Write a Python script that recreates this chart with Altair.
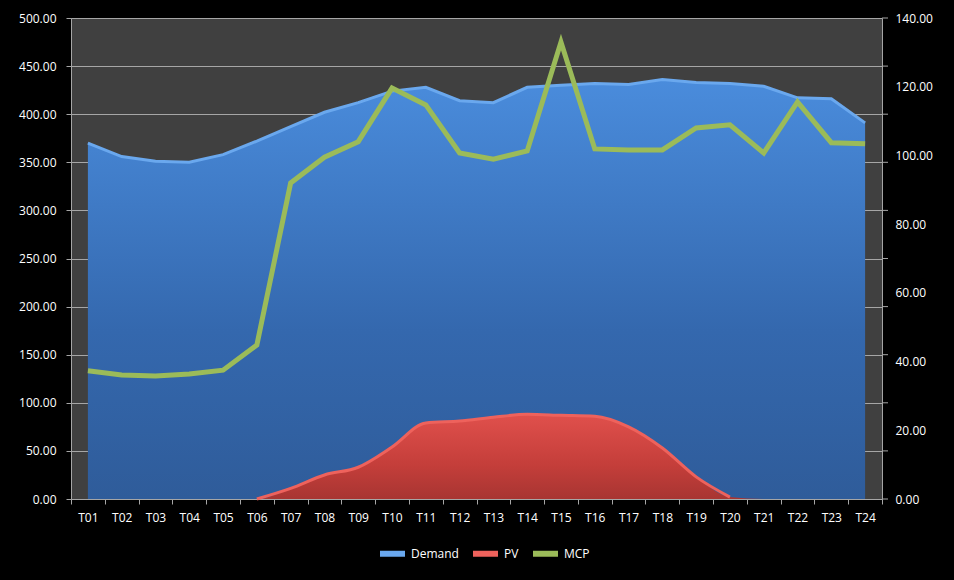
import altair as alt
import pandas as pd

periods = [f"T{i:02d}" for i in range(1, 25)]
demand = [370, 356, 351, 350, 358, 372, 387, 402, 412, 424, 428, 414,
          412, 428, 430, 432, 431, 436, 433, 432, 429, 417, 416, 391]
pv = [0, 0, 0, 0, 0, 0, 11, 25, 33, 54, 79, 81,
      85, 88, 87, 86, 75, 53, 23, 2, 0, 0, 0, 0]
mcp = [37.3, 36.1, 35.8, 36.4, 37.5, 44.8, 92.0, 99.5, 104.0, 119.6, 114.7, 100.7,
       98.9, 101.3, 133.0, 101.9, 101.6, 101.6, 108.0, 108.9, 100.7, 115.6, 103.7, 103.4]
left_ticks = [0, 50, 100, 150, 200, 250, 300, 350, 400, 450, 500]
right_ticks = [0, 20, 40, 60, 80, 100, 120, 140]
series_names = ["Demand", "PV", "MCP"]
series_colors = ["#6aa8ee", "#ee625c", "#9bbb59"]

wide = pd.DataFrame({"period": periods, "Demand": demand, "PV": pv, "MCP": mcp})

# long table for edge lines (PV edge only where the area rises above zero)
rows = []
for i, p in enumerate(periods):
    rows.append({"period": p, "series": "Demand", "value": demand[i]})
    near = pv[i] > 0 or (i < len(pv) - 1 and pv[i + 1] > 0)
    if near:
        rows.append({"period": p, "series": "PV", "value": pv[i]})
    rows.append({"period": p, "series": "MCP", "value": mcp[i]})
long = pd.DataFrame(rows)
ticks_df = pd.DataFrame({"tick": left_ticks})

W, H = 811, 481
GRID = "#a6a6a6"
FONT = "Open Sans"

x_enc = alt.X(
    "period:N", sort=periods, bandPosition=0.5,
    scale=alt.Scale(type="band", paddingInner=0, paddingOuter=0),
    axis=alt.Axis(title=None, tickBand="extent", labelColor="white", labelFontSize=12,
                  labelFont=FONT, labelAngle=0, labelPadding=8, tickSize=5,
                  tickColor=GRID, domainColor=GRID, grid=False),
)
y_left_scale = alt.Scale(domain=[0, 500], nice=False)
y_left_axis = alt.Axis(title=None, values=left_ticks, format=".2f", labelColor="white",
                       labelFontSize=12, labelFont=FONT, labelPadding=10, tickSize=5,
                       tickColor=GRID, domainColor=GRID, grid=True, gridColor=GRID,
                       gridWidth=1)

blue_grad = alt.Gradient(gradient="linear",
                         stops=[alt.GradientStop(color="#4a8cdc", offset=0),
                                alt.GradientStop(color="#3468ae", offset=0.6),
                                alt.GradientStop(color="#2f5c9a", offset=1)],
                         x1=0, x2=0, y1=0, y2=1)
red_grad = alt.Gradient(gradient="linear",
                        stops=[alt.GradientStop(color="#e0504c", offset=0),
                               alt.GradientStop(color="#c43e3a", offset=0.6),
                               alt.GradientStop(color="#a83532", offset=1)],
                        x1=0, x2=0, y1=0, y2=1)

demand_area = alt.Chart(wide).mark_area(color=blue_grad).encode(
    x=x_enc, y=alt.Y("Demand:Q", scale=y_left_scale, axis=y_left_axis))
pv_area = alt.Chart(wide).mark_area(color=red_grad, interpolate="monotone").encode(
    x=x_enc, y=alt.Y("PV:Q", scale=y_left_scale))

color_enc = alt.Color("series:N", scale=alt.Scale(domain=series_names, range=series_colors),
                      legend=alt.Legend(title=None, orient="none", legendX=306, legendY=520,
                                        direction="horizontal", symbolType="stroke",
                                        symbolSize=625, symbolStrokeWidth=6,
                                        labelColor="white", labelFontSize=12, labelFont=FONT,
                                        labelOffset=3, columnPadding=2))

edges_demand = alt.Chart(long).transform_filter(alt.datum.series == "Demand").mark_line(
    strokeWidth=3).encode(x=x_enc, y=alt.Y("value:Q", scale=y_left_scale), color=color_enc)
edges_pv = alt.Chart(long).transform_filter(alt.datum.series == "PV").mark_line(
    strokeWidth=3, interpolate="monotone").encode(
    x=x_enc, y=alt.Y("value:Q", scale=y_left_scale), color=color_enc)

right_tick_rules = alt.Chart(ticks_df).mark_rule(color=GRID, strokeWidth=1).encode(
    y=alt.Y("tick:Q", scale=y_left_scale), x=alt.value(W), x2=alt.value(W + 6))

mcp_line = alt.Chart(long).transform_filter(alt.datum.series == "MCP").mark_line(
    strokeWidth=5).encode(
    x=x_enc,
    y=alt.Y("value:Q", scale=alt.Scale(domain=[0, 140], nice=False),
            axis=alt.Axis(title=None, orient="right", values=right_ticks, format=".2f",
                          ticks=False, labelPadding=13, labelColor="white",
                          labelFontSize=12, labelFont=FONT, domainColor=GRID, grid=False)),
    color=color_enc)

inner = alt.layer(demand_area, pv_area, edges_demand, edges_pv, right_tick_rules)

chart = alt.layer(inner, mcp_line).resolve_scale(y="independent").properties(
    width=W, height=H,
    autosize=alt.AutoSizeParams(type="none"),
    padding={"left": 71, "top": 18, "right": 72, "bottom": 81},
    background="black",
).configure_view(fill="#404040", stroke=None)

chart.save("out.html", embed_options={"renderer": "svg", "actions": False})
